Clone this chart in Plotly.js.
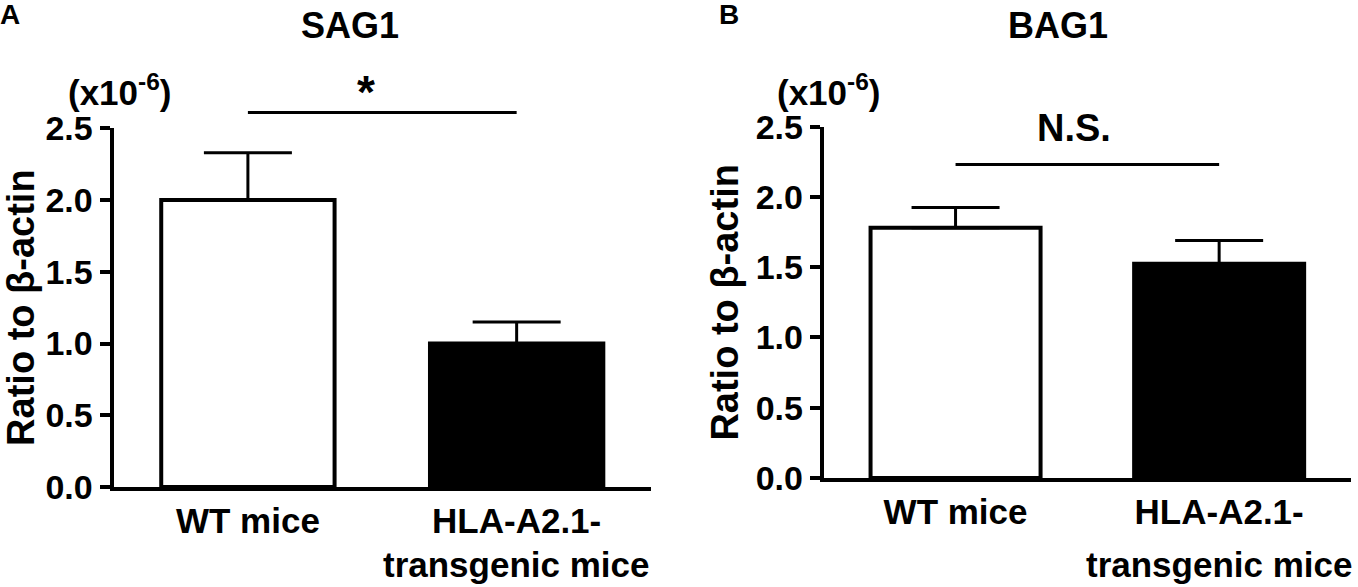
<!DOCTYPE html>
<html><head><meta charset="utf-8">
<script src="https://cdn.plot.ly/plotly-3.0.1.min.js"></script>
<style>html,body{margin:0;padding:0;background:#fff}#chart{width:1358px;height:587px}</style>
</head><body><div id="chart"></div><script>
// ---- data ----
const categories = ['WT mice', 'HLA-A2.1- transgenic mice'];
const tickLine1 = ['WT mice', 'HLA-A2.1-'];
const tickLine2 = ['', 'transgenic mice'];
const sag1Mean = [2.00, 1.00];
const sag1Sem = [0.33, 0.15];
const bag1Mean = [1.78, 1.525];
const bag1Sem = [0.145, 0.165];
const barColors = ['#ffffff', '#000000'];
const yTicks = [0, 0.5, 1.0, 1.5, 2.0, 2.5];
const yMax = 2.5;
const panelTitles = ['SAG1', 'BAG1'];
const panelLetters = ['A', 'B'];
const sigLabels = ['*', 'N.S.'];
const sigLevel = [2.61, 2.23];
const sigLabelLevel = [2.75, 2.49];
const sigLabelPos = [0.44, 0.45];
const yTitle = 'Ratio to β-actin';
const unitLabel = '(x10<sup>-6</sup>)';

// ---- rendering ----
const FONT = 'Arial, "Liberation Sans", Helvetica, sans-serif';
const xIdx = categories.map((c, i) => i);

function barTrace(means, sems, xa, ya) {
  return {
    type: 'bar', x: xIdx, y: means, xaxis: xa, yaxis: ya, width: 0.645,
    marker: {color: barColors, line: {color: '#000', width: 4}},
    error_y: {type: 'data', symmetric: false, array: sems, arrayminus: sems.map(() => 0),
              color: '#000', thickness: 3, width: 44},
    hoverinfo: 'skip', showlegend: false
  };
}

const data = [barTrace(sag1Mean, sag1Sem, 'x', 'y'), barTrace(bag1Mean, bag1Sem, 'x2', 'y2')];

function xAxis(domain, anchor) {
  return {domain: domain, anchor: anchor, range: [-0.5, 1.5], showline: true, linewidth: 4, linecolor: '#000',
    ticks: '', tickvals: xIdx, ticktext: tickLine1, tickfont: {size: 35, weight: 'bold', color: '#000'},
    showgrid: false, zeroline: false, fixedrange: true};
}
function yAxis(domain, anchor) {
  return {domain: domain, anchor: anchor, range: [0, yMax], showline: true, linewidth: 4, linecolor: '#000',
    ticks: 'outside', ticklen: 10, tickwidth: 4, tickcolor: '#000', tickvals: yTicks, tickformat: '.1f',
    tickfont: {size: 34, weight: 'bold', color: '#000'},
    title: {text: yTitle, font: {size: 38, weight: 'bold', color: '#000'}, standoff: 6},
    showgrid: false, zeroline: false, fixedrange: true};
}

const axes = [['x', 'y'], ['x2', 'y2']];
const shapes = [];
const annotations = [];
const titleX = [0.2577, 0.779];
const unitX = [0.0884, 0.6105];
const letterX = [0.0074, 0.5368];
axes.forEach(([xa, ya], p) => {
  shapes.push({type: 'line', xref: xa, yref: ya + ' domain', x0: 0, x1: 1,
    y0: sigLevel[p] / yMax, y1: sigLevel[p] / yMax, line: {color: '#000', width: 3}});
  annotations.push({xref: xa, yref: ya + ' domain', x: sigLabelPos[p], y: sigLabelLevel[p] / yMax,
    text: sigLabels[p], showarrow: false, xanchor: 'center', yanchor: 'middle',
    font: {size: p === 0 ? 46 : 38, weight: 'bold', color: '#000'}});
  annotations.push({xref: 'paper', yref: 'paper', x: titleX[p], y: 1 - 25 / 587, text: panelTitles[p],
    showarrow: false, xanchor: 'center', yanchor: 'middle', font: {size: 36, weight: 'bold', color: '#000'}});
  annotations.push({xref: 'paper', yref: 'paper', x: unitX[p], y: 1 - 90 / 587, text: unitLabel,
    showarrow: false, xanchor: 'center', yanchor: 'middle', font: {size: 35, weight: 'bold', color: '#000'}});
  annotations.push({xref: 'paper', yref: 'paper', x: letterX[p], y: 1 - 14 / 587, text: panelLetters[p],
    showarrow: false, xanchor: 'center', yanchor: 'middle', font: {size: 28, weight: 'bold', color: '#000'}});
  tickLine2.forEach((t, i) => {
    if (!t) return;
    annotations.push({xref: xa, yref: 'paper', x: i, y: (587 - 564) / 587, text: t, showarrow: false,
      xanchor: 'center', yanchor: 'middle', font: {size: 35, weight: 'bold', color: '#000'}});
  });
});

const layout = {
  width: 1358, height: 587, margin: {l: 0, r: 0, t: 0, b: 0},
  paper_bgcolor: '#fff', plot_bgcolor: '#fff', bargap: 0,
  font: {family: FONT, color: '#000'},
  xaxis: xAxis([0.0836, 0.4794], 'y'), yaxis: yAxis([0.1704, 0.7814], 'x'),
  xaxis2: xAxis([0.6066, 0.9948], 'y2'), yaxis2: yAxis([0.1857, 0.7842], 'x2'),
  shapes: shapes, annotations: annotations
};

Plotly.newPlot('chart', data, layout, {displayModeBar: false, staticPlot: true});
</script></body></html>
